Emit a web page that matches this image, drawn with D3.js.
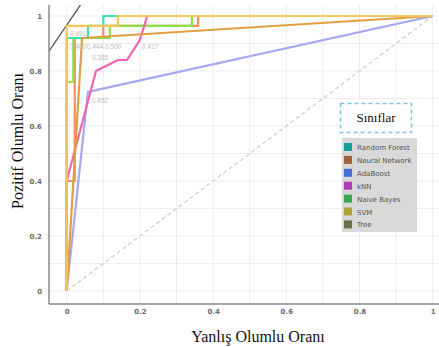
<!DOCTYPE html>
<html>
<head>
<meta charset="utf-8">
<script src="https://cdn.jsdelivr.net/npm/d3@7"></script>
<style>
  body { margin: 0; background: #fff; }
  svg { display: block; }
</style>
</head>
<body>
<div id="chart"></div>
<script>
// ROC curves, one array of [fpr, tpr] points per classifier
const classNames = ["Random Forest", "Neural Network", "AdaBoost", "kNN", "Naive Bayes", "SVM", "Tree"];
const legendColors = ["#1a9e99", "#a0603a", "#4a6ed8", "#b03cb8", "#3aa855", "#b0a638", "#6e6e4a"];
const curveColors = ["#3fe0b2", "#f88c5c", "#a6a6f2", "#f464b4", "#8ee04a", "#f2c85c", "#e0a040"];

const rocRandomForest = [[0, 0], [0, 0.92], [0.058, 0.92], [0.058, 0.964], [0.1, 0.964], [0.1, 1], [1, 1]];
const rocNeuralNetwork = [[0, 0], [0, 0.4], [0.022, 0.4], [0.022, 0.92], [0.1, 0.92], [0.1, 0.964], [0.359, 0.964], [0.359, 1], [1, 1]];
const rocAdaBoost = [[0, 0], [0.058, 0.724], [1, 1]];
const rocKnn = [[0, 0], [0, 0.4], [0.08, 0.8], [0.14, 0.84], [0.165, 0.84], [0.2, 0.913], [0.22, 1], [1, 1]];
const rocNaiveBayes = [[0, 0], [0, 0.76], [0.018, 0.76], [0.018, 0.92], [0.118, 0.92], [0.118, 0.964], [0.342, 0.964], [0.342, 1], [1, 1]];
const rocSvm = [[0, 0], [0, 0.964], [0.14, 0.964], [0.14, 1], [1, 1]];
const rocTree = [[0, 0], [0.042, 0.92], [1, 1]];
const curves = [rocRandomForest, rocNeuralNetwork, rocAdaBoost, rocKnn, rocNaiveBayes, rocSvm, rocTree];
// drawing order (back to front)
const drawOrder = [2, 1, 4, 0, 3, 6, 5];

const isoLine = [[-0.052, 0.865], [0.04, 1.045]];

const thresholdLabels = [
  {text: "0.491", x: 0.009, y: 0.928},
  {text: "0.400", x: 0.009, y: 0.88},
  {text: "0.444", x: 0.055, y: 0.88},
  {text: "0.500", x: 0.105, y: 0.88},
  {text: "0.385", x: 0.069, y: 0.84},
  {text: "0.417", x: 0.206, y: 0.88},
  {text: "0.452", x: 0.069, y: 0.684}
];

const xTicks = [0, 0.2, 0.4, 0.6, 0.8, 1];
const yTicks = [0, 0.2, 0.4, 0.6, 0.8, 1];
const gridTicks = d3.range(0, 1.01, 0.1);

const width = 439, height = 347;
const frameLeft = 49, frameBottom = 304, frameTop = 5, frameRight = 439;

const x = d3.scaleLinear([0, 1], [66.7, 432.7]);
const y = d3.scaleLinear([0, 1], [291, 16]);

const svg = d3.create("svg")
    .attr("width", width)
    .attr("height", height)
    .attr("viewBox", [0, 0, width, height]);

svg.append("defs").append("clipPath")
    .attr("id", "plot-clip")
  .append("rect")
    .attr("x", frameLeft)
    .attr("y", frameTop)
    .attr("width", frameRight - frameLeft)
    .attr("height", frameBottom - frameTop);

// grid
svg.append("g")
    .attr("stroke", "#ededed")
    .attr("stroke-width", 1)
  .call(g => g.selectAll(".v").data(gridTicks).join("line")
      .attr("x1", d => x(d)).attr("x2", d => x(d))
      .attr("y1", frameTop).attr("y2", frameBottom))
  .call(g => g.selectAll(".h").data(gridTicks).join("line")
      .attr("y1", d => y(d)).attr("y2", d => y(d))
      .attr("x1", frameLeft).attr("x2", frameRight));

// chance diagonal
svg.append("line")
    .attr("x1", x(0)).attr("y1", y(0))
    .attr("x2", x(1)).attr("y2", y(1))
    .attr("stroke", "#cfcfcf")
    .attr("stroke-width", 1.3)
    .attr("stroke-dasharray", "4,3");

const line = d3.line().x(d => x(d[0])).y(d => y(d[1]));

const plot = svg.append("g").attr("clip-path", "url(#plot-clip)");

plot.append("path")
    .attr("d", line(isoLine))
    .attr("fill", "none")
    .attr("stroke", "#555")
    .attr("stroke-width", 1.3);

plot.selectAll(".roc")
  .data(drawOrder)
  .join("path")
    .attr("class", "roc")
    .attr("d", i => line(curves[i]))
    .attr("fill", "none")
    .attr("stroke", i => curveColors[i])
    .attr("stroke-width", 2.2)
    .attr("stroke-linejoin", "round");

// threshold labels
svg.append("g")
    .attr("font-family", "Liberation Sans, Arial, sans-serif")
    .attr("font-size", 6.5)
    .attr("fill", "#bdbdbd")
  .selectAll("text")
  .data(thresholdLabels)
  .join("text")
    .attr("x", d => x(d.x))
    .attr("y", d => y(d.y))
    .text(d => d.text);

// axes frame
svg.append("line")
    .attr("x1", frameLeft).attr("x2", frameLeft)
    .attr("y1", frameTop).attr("y2", frameBottom)
    .attr("stroke", "#8a8a8a").attr("stroke-width", 1.5);
svg.append("line")
    .attr("x1", frameLeft).attr("x2", frameRight)
    .attr("y1", frameBottom).attr("y2", frameBottom)
    .attr("stroke", "#8a8a8a").attr("stroke-width", 1.5);

const xAxis = d3.axisBottom(x).tickValues(xTicks).tickSize(0).tickFormat(d3.format("~g"));
const yAxis = d3.axisLeft(y).tickValues(yTicks).tickSize(0).tickFormat(d3.format("~g"));

svg.append("g")
    .attr("transform", `translate(0,${frameBottom + 2})`)
    .call(xAxis)
    .call(g => g.select(".domain").remove())
    .call(g => g.selectAll("text")
        .attr("fill", "#6a6a6a")
        .attr("font-size", 7)
        .attr("font-weight", "bold")
        .attr("font-family", "DejaVu Sans, sans-serif"));

svg.append("g")
    .attr("transform", `translate(${frameLeft - 4},0)`)
    .call(yAxis)
    .call(g => g.select(".domain").remove())
    .call(g => g.selectAll("text")
        .attr("fill", "#6a6a6a")
        .attr("font-size", 7)
        .attr("font-weight", "bold")
        .attr("font-family", "DejaVu Sans, sans-serif"));

// axis titles
svg.append("text")
    .attr("x", 258)
    .attr("y", 342)
    .attr("text-anchor", "middle")
    .attr("font-family", "Liberation Serif, serif")
    .attr("font-size", 16)
    .attr("fill", "#111")
    .text("Yanlış Olumlu Oranı");

svg.append("text")
    .attr("transform", "translate(23,141) rotate(-90)")
    .attr("text-anchor", "middle")
    .attr("font-family", "Liberation Serif, serif")
    .attr("font-size", 16)
    .attr("fill", "#111")
    .text("Pozitif Olumlu Oranı");

// legend
const legend = svg.append("g");
legend.append("rect")
    .attr("x", 340.5).attr("y", 103.5)
    .attr("width", 71).attr("height", 29)
    .attr("fill", "#fff")
    .attr("stroke", "#7cc6de")
    .attr("stroke-width", 1.5)
    .attr("stroke-dasharray", "4,3");
legend.append("text")
    .attr("x", 376).attr("y", 122)
    .attr("text-anchor", "middle")
    .attr("font-family", "Liberation Serif, serif")
    .attr("font-size", 13)
    .attr("fill", "#111")
    .text("Sınıflar");

legend.append("rect")
    .attr("x", 342).attr("y", 138)
    .attr("width", 75).attr("height", 94)
    .attr("fill", "#d9d9d9");

const item = legend.selectAll(".item")
  .data(classNames)
  .join("g")
    .attr("class", "item")
    .attr("transform", (d, i) => `translate(344,${147 + i * 12.9})`);
item.append("rect")
    .attr("x", 0).attr("y", -4)
    .attr("width", 8).attr("height", 8)
    .attr("fill", (d, i) => legendColors[i]);
item.append("text")
    .attr("x", 13).attr("y", 3)
    .attr("font-family", "DejaVu Sans, sans-serif")
    .attr("font-size", 7)
    .attr("fill", "#555")
    .text(d => d);

d3.select("#chart").append(() => svg.node());
</script>
</body>
</html>
